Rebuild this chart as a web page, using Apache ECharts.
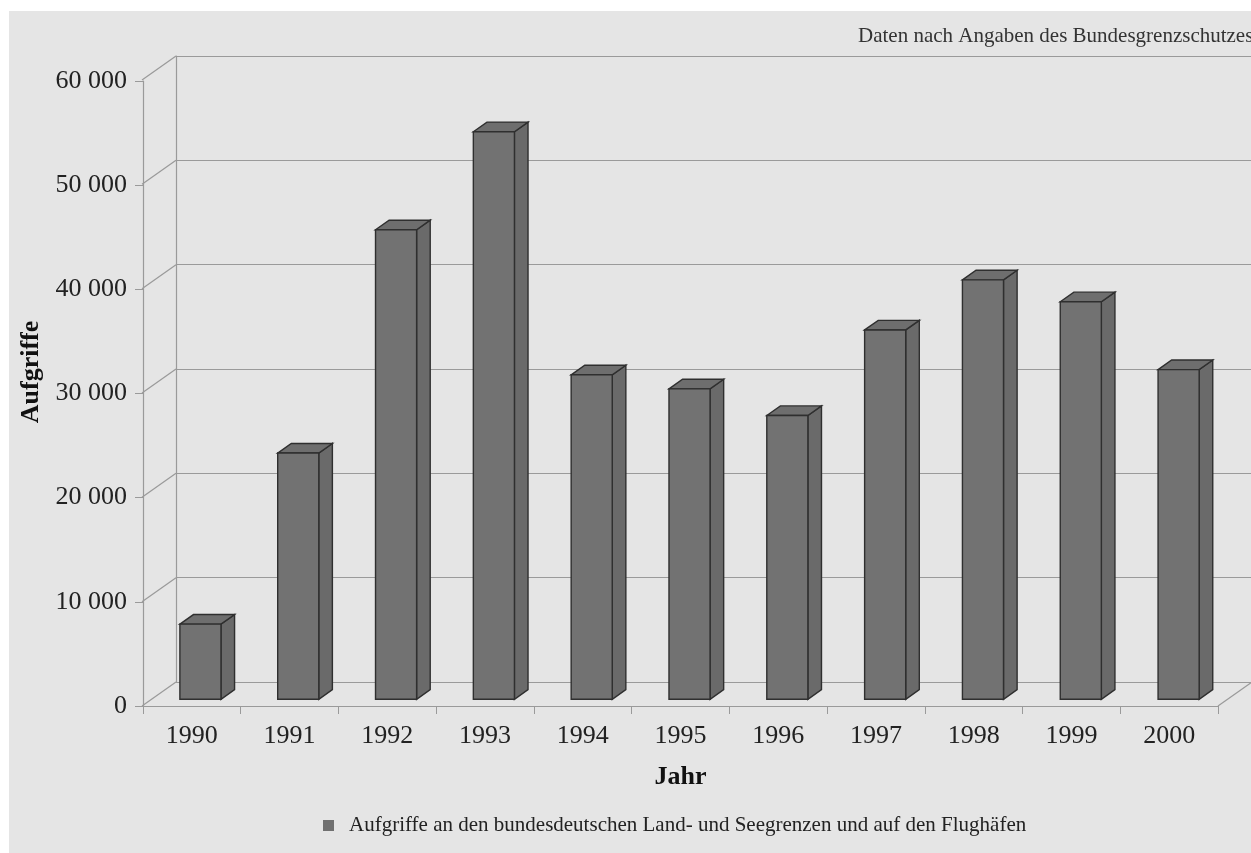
<!DOCTYPE html>
<html>
<head>
<meta charset="utf-8">
<script src="https://cdn.jsdelivr.net/npm/echarts@6/dist/echarts.min.js"></script>
<style>
html,body{margin:0;padding:0;background:#ffffff;}
#chart{width:1251px;height:853px;}
</style>
</head>
<body>
<div id="chart"></div>
<script>
// ---- data ----
const categories = ['1990','1991','1992','1993','1994','1995','1996','1997','1998','1999','2000'];
const values = [7200, 23600, 45000, 54400, 31100, 29750, 27200, 35400, 40200, 38100, 31600];
const yTicks = [0, 10000, 20000, 30000, 40000, 50000, 60000];
const seriesName = 'Aufgriffe an den bundesdeutschen Land- und Seegrenzen und auf den Flughäfen';
const sourceNote = 'Daten nach Angaben des Bundesgrenzschutzes';
const xTitle = 'Jahr';
const yTitle = 'Aufgriffe';

// ---- layout / style ----
const DX = 34, DY = 24;          // depth of the 3D floor (back -> front is -DX, +DY)
const FRONT = 0.72;              // bar front face position (fraction of depth from back)
const BAR_DEPTH = 0.4;           // bar depth (fraction of depth)
const BAR_W = 0.42;              // bar width relative to category width
const FONT = '"Liberation Serif", "DejaVu Serif", serif';
const GRID_C = '#9a9a9a';

const chart = echarts.init(document.getElementById('chart'), null, {renderer: 'canvas'});

function fmt(v){ return String(v).replace(/\B(?=(\d{3})+(?!\d))/g, ' '); }

function renderBar(params, api){
  const i = api.value(0), v = api.value(1);
  const base = api.coord([i, 0]);
  const top = api.coord([i, v]);
  const catW = api.size([1, 0])[0];
  const w = catW * BAR_W;
  const cx = base[0] - DX * FRONT;
  const x0 = cx - w / 2, x1 = cx + w / 2;
  const yb = base[1] + DY * FRONT, yt = top[1] + DY * FRONT;
  const bx = DX * BAR_DEPTH, by = -DY * BAR_DEPTH;
  const stroke = {stroke: '#2f2f2f', lineWidth: 1.4};
  return {
    type: 'group',
    children: [
      {type: 'polygon', shape: {points: [[x1, yt], [x1 + bx, yt + by], [x1 + bx, yb + by], [x1, yb]]},
       style: Object.assign({fill: '#6a6a6a'}, stroke)},
      {type: 'polygon', shape: {points: [[x0, yt], [x0 + bx, yt + by], [x1 + bx, yt + by], [x1, yt]]},
       style: Object.assign({fill: '#6e6e6e'}, stroke)},
      {type: 'rect', shape: {x: x0, y: yt, width: w, height: yb - yt},
       style: Object.assign({fill: '#727272'}, stroke)}
    ]
  };
}

function renderWall(params, api){
  const v = api.value(1);
  const p = api.coord([0, v]);
  const cs = params.coordSys;
  const left = cs.x;
  const children = [
    {type: 'line', shape: {x1: left, y1: p[1], x2: left - DX, y2: p[1] + DY},
     style: {stroke: GRID_C, lineWidth: 1.2}}
  ];
  if (v === 0) {
    const right = cs.x + cs.width;
    children.push({type: 'line', shape: {x1: right, y1: p[1], x2: right - DX, y2: p[1] + DY},
      style: {stroke: GRID_C, lineWidth: 1.2}});
  }
  return {type: 'group', children: children};
}

const option = {
  backgroundColor: '#ffffff',
  animation: false,
  graphic: [
    {type: 'rect', z: -10, shape: {x: 9, y: 11, width: 1251, height: 853}, style: {fill: '#e5e5e5'}},
    {type: 'text', x: 31, y: 372, rotation: Math.PI / 2,
     style: {text: yTitle, align: 'center', verticalAlign: 'middle',
             font: 'bold 26px ' + FONT, fill: '#111'}}
  ],
  title: {
    text: sourceNote, left: 853, top: 21,
    textStyle: {fontFamily: FONT, fontSize: 21, fontWeight: 'normal', color: '#333'}
  },
  legend: {
    data: [seriesName],
    left: 318, top: 810,
    icon: 'rect', itemWidth: 11, itemHeight: 11,
    textStyle: {fontFamily: FONT, fontSize: 21, color: '#222', padding: [0, 0, 0, 10]}
  },
  grid: [
    {left: 176, top: 56, right: -1, bottom: 171, outerBoundsMode: 'none', containLabel: false},   // back wall
    {left: 143, top: 81, right: 33, bottom: 147, outerBoundsMode: 'none', containLabel: false}    // front plane
  ],
  xAxis: [
    {type: 'category', gridIndex: 0, data: categories, show: false, boundaryGap: true},
    {type: 'category', gridIndex: 1, data: categories, boundaryGap: true,
     name: xTitle, nameLocation: 'middle', nameGap: 58,
     nameTextStyle: {fontFamily: FONT, fontSize: 26, fontWeight: 'bold', color: '#111'},
     axisLine: {show: true, lineStyle: {color: GRID_C, width: 1.2}},
     axisTick: {show: true, interval: 0, length: 8, lineStyle: {color: GRID_C}},
     axisLabel: {interval: 0, margin: 17, fontFamily: FONT, fontSize: 26, color: '#222'},
     splitLine: {show: false}}
  ],
  yAxis: [
    {type: 'value', gridIndex: 0, min: 0, max: 60000, interval: 10000,
     axisLine: {show: true, lineStyle: {color: GRID_C, width: 1.2}},
     axisTick: {show: false}, axisLabel: {show: false},
     splitLine: {show: true, lineStyle: {color: GRID_C, width: 1.2}}},
    {type: 'value', gridIndex: 1, min: 0, max: 60000, interval: 10000,
     axisLine: {show: true, lineStyle: {color: GRID_C, width: 1.2}},
     axisTick: {show: true, length: 8, lineStyle: {color: GRID_C}},
     axisLabel: {margin: 16, fontFamily: FONT, fontSize: 26, color: '#222', formatter: fmt},
     splitLine: {show: false}}
  ],
  series: [
    {type: 'custom', name: 'wall', xAxisIndex: 0, yAxisIndex: 0, silent: true, z: 1,
     renderItem: renderWall, data: yTicks.map(v => [0, v])},
    {type: 'custom', name: seriesName, xAxisIndex: 0, yAxisIndex: 0, z: 5,
     itemStyle: {color: '#707070'},
     renderItem: renderBar, data: values.map((v, i) => [i, v])}
  ]
};
chart.setOption(option);
</script>
</body>
</html>
